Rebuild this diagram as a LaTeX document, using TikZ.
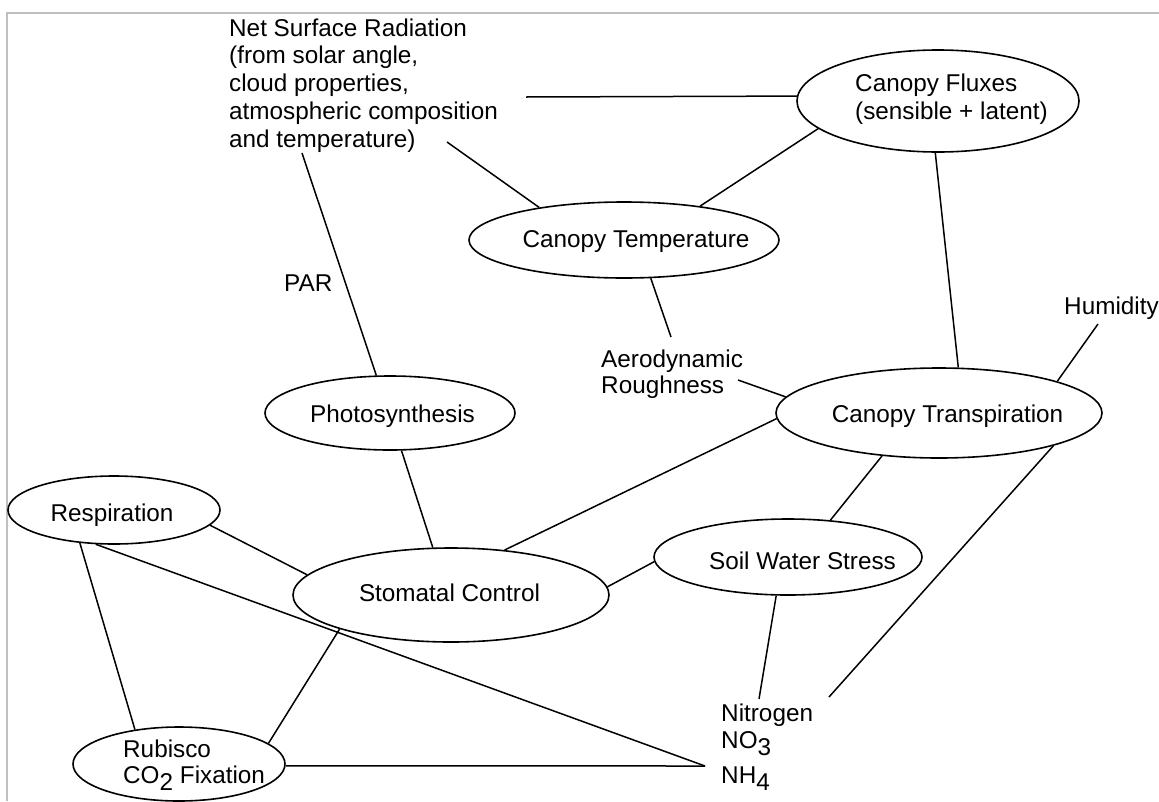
\documentclass[tikz,border=0pt]{standalone}
\usepackage{fontspec}
\setmainfont{Liberation Sans}
\usetikzlibrary{shapes.geometric}
\begin{document}
\begin{tikzpicture}[x=1pt,y=-1pt,
  bubble/.style={ellipse, draw, line width=1.6pt, inner sep=0pt},
  lbl/.style={inner sep=0pt, font=\fontsize{24.3}{27.6}\selectfont, align=left},
  link/.style={line width=1.5pt},
  frame/.style={line width=2pt, draw={rgb,255:red,192;green,192;blue,192}}]
\useasboundingbox (0,0) rectangle (1159,801);
% frame
\coordinate (f0) at (7.3,801);
\coordinate (f1) at (7.3,13.3);
\coordinate (f2) at (1159,13.3);
\draw[frame] (f0) -- (f1) -- (f2);
% ellipses
\node[bubble, minimum width=282pt, minimum height=102pt] (fluxes) at (938,101) {};
\node[bubble, minimum width=310pt, minimum height=76pt] (temp) at (624,240) {};
\node[bubble, minimum width=250pt, minimum height=74pt] (photo) at (390,413) {};
\node[bubble, minimum width=326pt, minimum height=90pt] (transp) at (939,413) {};
\node[bubble, minimum width=212pt, minimum height=68pt] (resp) at (114,510) {};
\node[bubble, minimum width=316pt, minimum height=94pt] (stomatal) at (451,595) {};
\node[bubble, minimum width=268pt, minimum height=76pt] (soil) at (788,557) {};
\node[bubble, minimum width=212pt, minimum height=74pt] (rubisco) at (179,764) {};
% texts in ellipses
\node[lbl, anchor=north west, font=\fontsize{24.3}{28}\selectfont] (fluxesT) at (855,73.3) {Canopy Fluxes\\(sensible + latent)};
\node[lbl, anchor=base] (tempT) at (636,247) {Canopy Temperature};
\node[lbl, anchor=base] (photoT) at (392.5,422) {Photosynthesis};
\node[lbl, anchor=base] (transpT) at (947.5,422) {Canopy Transpiration};
\node[lbl, anchor=base] (respT) at (112,521) {Respiration};
\node[lbl, anchor=base] (stomT) at (449.5,601) {Stomatal Control};
\node[lbl, anchor=base] (soilT) at (802.5,569) {Soil Water Stress};
\node[lbl, anchor=north west, font=\fontsize{24.3}{26}\selectfont] (rubiscoT) at (123,739.6) {Rubisco\\CO\raisebox{-7pt}{2} Fixation};
% free texts
\node[lbl, anchor=north west, font=\fontsize{24.3}{27.75}\selectfont] (net) at (229,18.3) {Net Surface Radiation\\(from solar angle,\\cloud properties,\\atmospheric composition\\and temperature)};
\node[lbl, anchor=base west] (par) at (284,291) {PAR};
\node[lbl, anchor=base west] (hum) at (1064,314) {Humidity};
\node[lbl, anchor=north west, font=\fontsize{24.3}{26.5}\selectfont] (aero) at (601,349.5) {Aerodynamic\\Roughness};
\node[lbl, anchor=north west, font=\fontsize{24.3}{27}\selectfont] (nitro) at (721,703.6) {Nitrogen\\NO\raisebox{-7pt}{3}\\[8pt]NH\raisebox{-7pt}{4}};
% connector free ends
\coordinate (n1) at (526,97);
\coordinate (n2) at (447,142);
\coordinate (n3) at (302,153);
\coordinate (a1) at (671,337);
\coordinate (a2) at (738,380);
\coordinate (h1) at (1098,324);
\coordinate (ni1) at (759,699);
\coordinate (ni2) at (829,697);
\coordinate (nh) at (705,766);
% connectors
\draw[link] (n1) -- (fluxes.178.4);
\draw[link] (n2) -- (temp.159);
\draw[link] (n3) -- (photo.110.7);
\draw[link] (temp.24) -- (fluxes.193);
\draw[link] (fluxes.267) -- (transp.67);
\draw[link] (temp.305) -- (a1);
\draw[link] (a2) -- (transp.174);
\draw[link] (h1) -- (transp.15.5);
\draw[link] (transp.182) -- (stomatal.40);
\draw[link] (transp.217) -- (soil.41);
\draw[link] (transp.344) -- (ni2);
\draw[link] (soil.253) -- (ni1);
\draw[link] (soil.182) -- (stomatal.3);
\draw[link] (photo.287) -- (stomatal.111);
\draw[link] (resp.351.5) -- (stomatal.172);
\draw[link] (resp.224) -- (rubisco.142.5);
\draw[link] (resp.242.7) -- (nh);
\draw[link] (stomatal.197.3) -- (rubisco.13.3);
\draw[link] (rubisco.359) -- (nh);
\end{tikzpicture}
\end{document}
